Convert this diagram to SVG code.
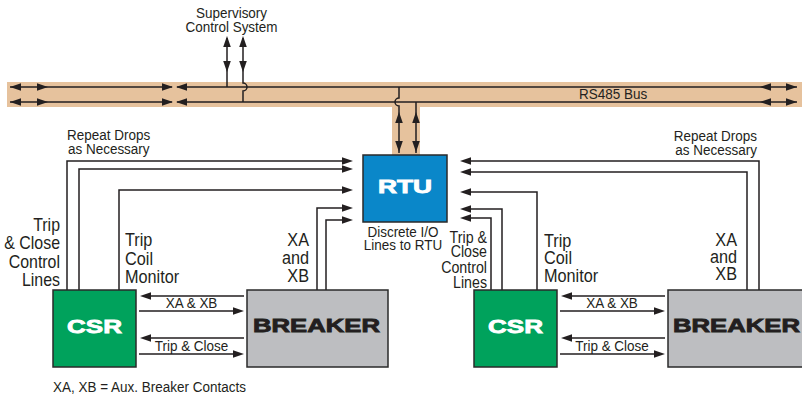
<svg xmlns="http://www.w3.org/2000/svg" xmlns:xlink="http://www.w3.org/1999/xlink" width="802" height="397" viewBox="0 0 802 397">
<style>
.t{font-family:"Liberation Sans",Arial,sans-serif;font-size:14.5px;fill:#231f20}
.tl{font-size:17.5px}
.tm{font-size:16px}
.b{font-family:"Liberation Sans","DejaVu Sans",sans-serif;font-weight:bold;font-size:18px;stroke-width:0.8px}
.ln{fill:none;stroke:#231f20;stroke-width:1.5}
.band{fill:#e6c29d}
.box{stroke:#2a2a2a;stroke-width:1.5}
.ah{fill:#231f20}
</style>
<defs>
<path id="ah" d="M0,0 L-11,-3.8 L-11,3.8 Z"/>
</defs>
<rect class="band" x="7" y="82" width="795" height="25"/>
<rect class="band" x="392" y="107" width="28" height="48"/>
<g id="connectors">
<path class="ln" d="M10,87 H172 M177,87 H797 M10,102 H172 M177,102 H797"/>
<path class="ln" d="M227,38 V87 M243,38 V83 A4,4 0 0 1 243,91 V102"/>
<path class="ln" d="M399,87 V98 A4,4 0 0 0 399,106 V153 M416,102 V153"/>
<path class="ln" d="M67,290 V161 H350 M79,290 V169 H350 M119,290 V190 H350 M317,290 V208 H350 M326,290 V220 H350"/>
<path class="ln" d="M759,290 V161 H463 M747,290 V172 H463 M537,290 V192 H463 M502,290 V209 H463 M491,290 V218 H463"/>
<path class="ln" d="M244,296 H143 M139,311 H241 M244,338 H143 M139,354 H241"/>
<path class="ln" d="M665,296 H564 M560,311 H662 M665,338 H564 M560,354 H662"/>
<g class="ah">
<use xlink:href="#ah" transform="translate(10,87) rotate(180)"/>
<use xlink:href="#ah" transform="translate(48,87)"/>
<use xlink:href="#ah" transform="translate(173,87)"/>
<use xlink:href="#ah" transform="translate(176,87) rotate(180)"/>
<use xlink:href="#ah" transform="translate(760,87) rotate(180)"/>
<use xlink:href="#ah" transform="translate(797,87)"/>
<use xlink:href="#ah" transform="translate(10,102) rotate(180)"/>
<use xlink:href="#ah" transform="translate(48,102)"/>
<use xlink:href="#ah" transform="translate(173,102)"/>
<use xlink:href="#ah" transform="translate(176,102) rotate(180)"/>
<use xlink:href="#ah" transform="translate(760,102) rotate(180)"/>
<use xlink:href="#ah" transform="translate(797,102)"/>
<use xlink:href="#ah" transform="translate(227,36) rotate(-90)"/>
<use xlink:href="#ah" transform="translate(227,72) rotate(90)"/>
<use xlink:href="#ah" transform="translate(243,36) rotate(-90)"/>
<use xlink:href="#ah" transform="translate(243,72) rotate(90)"/>
<use xlink:href="#ah" transform="translate(399,112) rotate(-90)"/>
<use xlink:href="#ah" transform="translate(399,152) rotate(90)"/>
<use xlink:href="#ah" transform="translate(416,112) rotate(-90)"/>
<use xlink:href="#ah" transform="translate(416,152) rotate(90)"/>
<use xlink:href="#ah" transform="translate(353,161)"/>
<use xlink:href="#ah" transform="translate(353,169)"/>
<use xlink:href="#ah" transform="translate(353,190)"/>
<use xlink:href="#ah" transform="translate(353,208)"/>
<use xlink:href="#ah" transform="translate(353,220)"/>
<use xlink:href="#ah" transform="translate(460,161) rotate(180)"/>
<use xlink:href="#ah" transform="translate(460,172) rotate(180)"/>
<use xlink:href="#ah" transform="translate(460,192) rotate(180)"/>
<use xlink:href="#ah" transform="translate(460,209) rotate(180)"/>
<use xlink:href="#ah" transform="translate(460,218) rotate(180)"/>
<use xlink:href="#ah" transform="translate(140,296) rotate(180)"/>
<use xlink:href="#ah" transform="translate(244,311)"/>
<use xlink:href="#ah" transform="translate(140,338) rotate(180)"/>
<use xlink:href="#ah" transform="translate(244,354)"/>
<use xlink:href="#ah" transform="translate(561,296) rotate(180)"/>
<use xlink:href="#ah" transform="translate(665,311)"/>
<use xlink:href="#ah" transform="translate(561,338) rotate(180)"/>
<use xlink:href="#ah" transform="translate(665,354)"/>
</g>
</g>
<g id="labels">
<text class="t" transform="translate(231.5,18) scale(0.93,1)" text-anchor="middle"><tspan x="0" y="0">Supervisory</tspan><tspan x="0" y="14">Control System</tspan></text>
<text class="t" transform="translate(579,99) scale(0.93,1)">RS485 Bus</text>
<text class="t" transform="translate(67,140) scale(0.93,1)"><tspan x="0" y="0">Repeat Drops</tspan><tspan x="1" y="14">as Necessary</tspan></text>
<text class="t" transform="translate(757,141) scale(0.93,1)" text-anchor="end"><tspan x="0" y="0">Repeat Drops</tspan><tspan x="0" y="14">as Necessary</tspan></text>
<text class="t tl" transform="translate(60,231) scale(0.91,1)" text-anchor="end"><tspan x="0" y="0">Trip</tspan><tspan x="0" y="18">&amp; Close</tspan><tspan x="0" y="37">Control</tspan><tspan x="0" y="55">Lines</tspan></text>
<text class="t tl" transform="translate(125,246) scale(0.93,1)"><tspan x="0" y="0">Trip</tspan><tspan x="0" y="19">Coil</tspan><tspan x="0" y="37">Monitor</tspan></text>
<text class="t tl" transform="translate(309,246) scale(0.93,1)" text-anchor="end"><tspan x="0" y="0">XA</tspan><tspan x="0" y="18">and</tspan><tspan x="0" y="36">XB</tspan></text>
<text class="t" transform="translate(403,237) scale(0.93,1)" text-anchor="middle"><tspan x="0" y="0">Discrete I/O</tspan><tspan x="0" y="13">Lines to RTU</tspan></text>
<text class="t tm" transform="translate(487,243) scale(0.89,1)" text-anchor="end"><tspan x="0" y="0">Trip &amp;</tspan><tspan x="0" y="14">Close</tspan><tspan x="0" y="30">Control</tspan><tspan x="0" y="45">Lines</tspan></text>
<text class="t tl" transform="translate(544,247) scale(0.93,1)"><tspan x="0" y="0">Trip</tspan><tspan x="0" y="17">Coil</tspan><tspan x="0" y="35">Monitor</tspan></text>
<text class="t tl" transform="translate(737,246) scale(0.93,1)" text-anchor="end"><tspan x="0" y="0">XA</tspan><tspan x="0" y="17">and</tspan><tspan x="0" y="34">XB</tspan></text>
<text class="t" transform="translate(191.5,308) scale(0.93,1)" text-anchor="middle">XA &amp; XB</text>
<text class="t" transform="translate(191.5,351) scale(0.93,1)" text-anchor="middle">Trip &amp; Close</text>
<text class="t" transform="translate(612,308) scale(0.93,1)" text-anchor="middle">XA &amp; XB</text>
<text class="t" transform="translate(612,351) scale(0.93,1)" text-anchor="middle">Trip &amp; Close</text>
<text class="t" transform="translate(53,392) scale(0.93,1)">XA, XB = Aux. Breaker Contacts</text>
</g>
<g id="rtu">
<rect class="box" x="363" y="155" width="84" height="67" fill="#0a87c9"/>
<text class="b" x="378" y="193" textLength="54" lengthAdjust="spacingAndGlyphs" fill="#fff" stroke="#fff">RTU</text>
</g>
<g id="csr-left">
<rect class="box" x="53" y="290" width="83" height="77" fill="#00a25c"/>
<text class="b" x="67" y="333" textLength="55" lengthAdjust="spacingAndGlyphs" fill="#fff" stroke="#fff">CSR</text>
</g>
<g id="breaker-left">
<rect class="box" x="247" y="290" width="141" height="77" fill="#bdbec1"/>
<text class="b" x="253" y="332" textLength="127" lengthAdjust="spacingAndGlyphs" fill="#231f20" stroke="#231f20">BREAKER</text>
</g>
<g id="csr-right">
<rect class="box" x="474" y="290" width="83" height="77" fill="#00a25c"/>
<text class="b" x="488" y="333" textLength="55" lengthAdjust="spacingAndGlyphs" fill="#fff" stroke="#fff">CSR</text>
</g>
<g id="breaker-right">
<rect class="box" x="668" y="290" width="141" height="77" fill="#bdbec1"/>
<text class="b" x="673" y="332" textLength="127" lengthAdjust="spacingAndGlyphs" fill="#231f20" stroke="#231f20">BREAKER</text>
</g>
</svg>
